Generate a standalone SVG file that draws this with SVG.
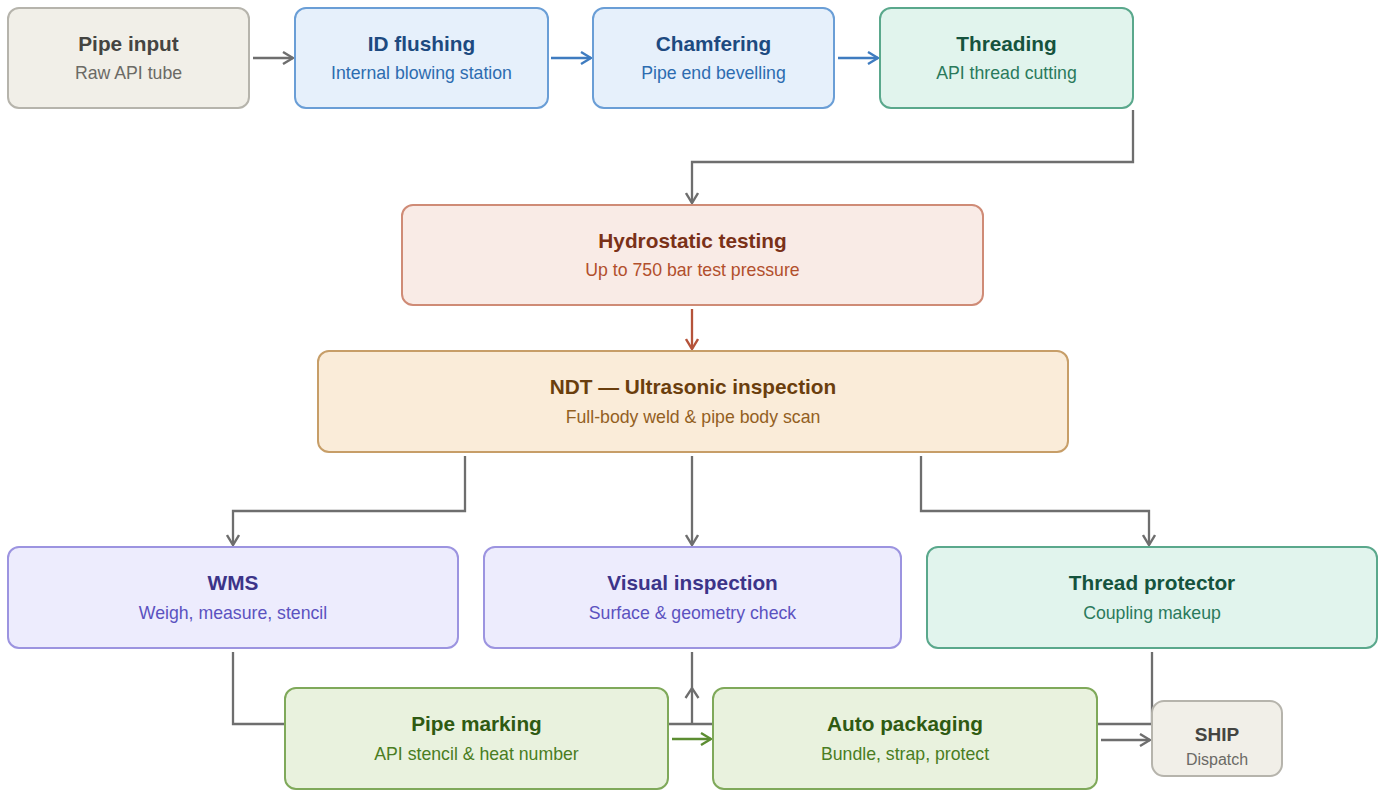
<svg xmlns="http://www.w3.org/2000/svg" width="1389" height="792" viewBox="0 0 1389 792">
<defs>
<style>
text{font-family:"Liberation Sans",Arial,sans-serif;text-anchor:middle}
.t{font-size:20.8px;font-weight:bold}
.s{font-size:17.7px}
.box{stroke-width:2}
.gray rect{fill:#f1efe8;stroke:#b6b4ac}.gray .t{fill:#444441}.gray .s{fill:#6b6a65}
.blue rect{fill:#e6f0fb;stroke:#6a9ed6}.blue .t{fill:#1d4a80}.blue .s{fill:#2d6cb0}
.teal rect{fill:#e1f4ed;stroke:#5aa88c}.teal .t{fill:#15533d}.teal .s{fill:#2a7a5c}
.coral rect{fill:#f9ebe6;stroke:#cf8b76}.coral .t{fill:#7a3118}.coral .s{fill:#b24f2c}
.amber rect{fill:#faecd9;stroke:#c79e68}.amber .t{fill:#6a3e0d}.amber .s{fill:#93601f}
.purple rect{fill:#edecfd;stroke:#9c94e0}.purple .t{fill:#3c3489}.purple .s{fill:#5b52c0}
.green rect{fill:#e9f2de;stroke:#7fa95a}.green .t{fill:#2f5a12}.green .s{fill:#4a7d22}
.c{fill:none;stroke-width:2.3}
.cg{stroke:#6e6e6e}.cb{stroke:#3f7cc0}.cc{stroke:#b5533a}.cn{stroke:#5c8d32}
</style>
<marker id="ag" viewBox="0 0 12 14" refX="11" refY="7" markerWidth="12" markerHeight="14" markerUnits="userSpaceOnUse" orient="auto"><path d="M1,1 L11,7 L1,13" fill="none" stroke="#6e6e6e" stroke-width="2.4"/></marker>
<marker id="ab" viewBox="0 0 12 14" refX="11" refY="7" markerWidth="12" markerHeight="14" markerUnits="userSpaceOnUse" orient="auto"><path d="M1,1 L11,7 L1,13" fill="none" stroke="#3f7cc0" stroke-width="2.4"/></marker>
<marker id="ac" viewBox="0 0 12 14" refX="11" refY="7" markerWidth="12" markerHeight="14" markerUnits="userSpaceOnUse" orient="auto"><path d="M1,1 L11,7 L1,13" fill="none" stroke="#b5533a" stroke-width="2.4"/></marker>
<marker id="an" viewBox="0 0 12 14" refX="11" refY="7" markerWidth="12" markerHeight="14" markerUnits="userSpaceOnUse" orient="auto"><path d="M1,1 L11,7 L1,13" fill="none" stroke="#5c8d32" stroke-width="2.4"/></marker>
</defs>
<rect width="1389" height="792" fill="#ffffff"/>

<g id="connectors">
<path class="c cg" d="M253,58 H293" marker-end="url(#ag)"/>
<path class="c cb" d="M551,58 H591" marker-end="url(#ab)"/>
<path class="c cb" d="M838,58 H878" marker-end="url(#ab)"/>
<path class="c cg" d="M1133,110 V162 H692 V203" marker-end="url(#ag)"/>
<path class="c cc" d="M692,309 V349" marker-end="url(#ac)"/>
<path class="c cg" d="M465,456 V511 H233 V545" marker-end="url(#ag)"/>
<path class="c cg" d="M692,456 V545" marker-end="url(#ag)"/>
<path class="c cg" d="M921,456 V511 H1149 V545" marker-end="url(#ag)"/>
<path class="c cg" d="M233,652 V724 H285"/>
<path class="c cg" d="M668,724 H713"/>
<path class="c cg" d="M692,724 V652"/>
<path class="c cg" d="M685.5,698 L692,688 L698.5,698" stroke-width="2.4"/>
<path class="c cn" d="M672,739 H711" marker-end="url(#an)"/>
<path class="c cg" d="M1152,652 V724 H1097"/>
<path class="c cg" d="M1101,740 H1150" marker-end="url(#ag)"/>
</g>

<g id="pipe-input" class="gray"><rect class="box" x="8" y="8" width="241" height="100" rx="11"/><text class="t" x="128.5" y="50.5">Pipe input</text><text class="s" x="128.5" y="79.3">Raw API tube</text></g>
<g id="id-flushing" class="blue"><rect class="box" x="295" y="8" width="253" height="100" rx="11"/><text class="t" x="421.5" y="50.5">ID flushing</text><text class="s" x="421.5" y="79.3">Internal blowing station</text></g>
<g id="chamfering" class="blue"><rect class="box" x="593" y="8" width="241" height="100" rx="11"/><text class="t" x="713.5" y="50.5">Chamfering</text><text class="s" x="713.5" y="79.3">Pipe end bevelling</text></g>
<g id="threading" class="teal"><rect class="box" x="880" y="8" width="253" height="100" rx="11"/><text class="t" x="1006.5" y="50.5">Threading</text><text class="s" x="1006.5" y="79.3">API thread cutting</text></g>
<g id="hydrostatic" class="coral"><rect class="box" x="402" y="205" width="581" height="100" rx="11"/><text class="t" x="692.5" y="247.5">Hydrostatic testing</text><text class="s" x="692.5" y="276.3">Up to 750 bar test pressure</text></g>
<g id="ndt" class="amber"><rect class="box" x="318" y="351" width="750" height="101" rx="11"/><text class="t" x="693" y="394">NDT — Ultrasonic inspection</text><text class="s" x="693" y="422.8">Full-body weld &amp; pipe body scan</text></g>
<g id="wms" class="purple"><rect class="box" x="8" y="547" width="450" height="101" rx="11"/><text class="t" x="233" y="590">WMS</text><text class="s" x="233" y="618.8">Weigh, measure, stencil</text></g>
<g id="visual-inspection" class="purple"><rect class="box" x="484" y="547" width="417" height="101" rx="11"/><text class="t" x="692.5" y="590">Visual inspection</text><text class="s" x="692.5" y="618.8">Surface &amp; geometry check</text></g>
<g id="thread-protector" class="teal"><rect class="box" x="927" y="547" width="450" height="101" rx="11"/><text class="t" x="1152" y="590">Thread protector</text><text class="s" x="1152" y="618.8">Coupling makeup</text></g>
<g id="pipe-marking" class="green"><rect class="box" x="285" y="688" width="383" height="101" rx="11"/><text class="t" x="476.5" y="731">Pipe marking</text><text class="s" x="476.5" y="759.8">API stencil &amp; heat number</text></g>
<g id="auto-packaging" class="green"><rect class="box" x="713" y="688" width="384" height="101" rx="11"/><text class="t" x="905" y="731">Auto packaging</text><text class="s" x="905" y="759.8">Bundle, strap, protect</text></g>
<g id="ship" class="gray"><rect class="box" x="1152" y="701" width="130" height="75" rx="12"/><text x="1217" y="740.8" style="font-size:19px;font-weight:bold;fill:#444441">SHIP</text><text x="1217" y="764.7" style="font-size:16px;fill:#6b6a65">Dispatch</text></g>
</svg>
